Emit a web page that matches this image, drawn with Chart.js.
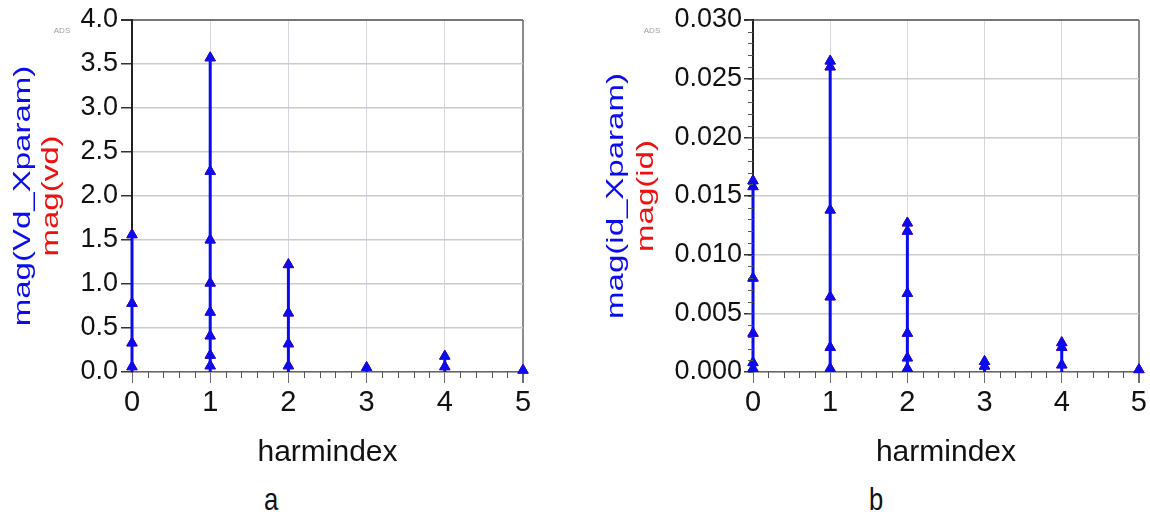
<!DOCTYPE html>
<html>
<head>
<meta charset="utf-8">
<title>harmindex spectra</title>
<script src="https://cdn.jsdelivr.net/npm/chart.js@4.4.1/dist/chart.umd.min.js"></script>
<style>
  html, body { margin: 0; padding: 0; background: #fff; }
  #page { position: relative; width: 1150px; height: 515px; overflow: hidden; }
  .panel { position: absolute; top: 0; width: 575px; height: 480px; }
  .caption {
    position: absolute; top: 483px; width: 40px; text-align: center;
    font-family: 'Liberation Sans', Arial, sans-serif; font-size: 32px; line-height: 32px;
    color: #111; transform: scaleX(0.8);
  }
</style>
</head>
<body>
<div id="page">
  <div class="panel" style="left:0"><canvas id="chart-a" width="575" height="480"></canvas></div>
  <div class="panel" style="left:575px"><canvas id="chart-b" width="575" height="480"></canvas></div>
  <div class="caption" style="left:251px">a</div>
  <div class="caption" style="left:856px">b</div>
</div>
<script>
  // ---- data ----
  const harmindex = [0, 1, 2, 3, 4, 5];

  // mag(Vd_Xparam) / mag(vd) at each harmonic, one entry per sweep point
  const vdH0 = [0.06, 0.33, 0.78, 1.56];
  const vdH1 = [0.07, 0.19, 0.41, 0.68, 1.01, 1.5, 2.28, 3.57];
  const vdH2 = [0.07, 0.32, 0.67, 1.22];
  const vdH3 = [0.05];
  const vdH4 = [0.06, 0.18];
  const vdH5 = [0.02];

  // mag(id_Xparam) / mag(id)
  const idH0 = [0.0003, 0.0008, 0.0033, 0.008, 0.0158, 0.0163];
  const idH1 = [0.0003, 0.0021, 0.0064, 0.0138, 0.026, 0.0265];
  const idH2 = [0.0003, 0.0012, 0.0033, 0.0067, 0.012, 0.0127];
  const idH3 = [0.0005, 0.0009];
  const idH4 = [0.0006, 0.0021, 0.0025];
  const idH5 = [0.0002];

  const BLUE = '#0b0bef';
  const RED = '#ee1111';
  const FONT = "'Liberation Sans', Arial, sans-serif";
  const NARROW = "'Liberation Sans Narrow', 'Arial Narrow', 'Liberation Sans', Arial, sans-serif";

  // flatten harmonic groups into scatter points
  function toPoints(groups) {
    const pts = [];
    groups.forEach(function (vals, i) {
      vals.forEach(function (v) {
        pts.push({ x: harmindex[i], y: v });
      });
    });
    return pts;
  }

  // vertical stem from 0 to the largest value of each harmonic
  function toStems(groups) {
    const pts = [];
    groups.forEach(function (vals, i) {
      pts.push({ x: harmindex[i], y: 0 });
      pts.push({ x: harmindex[i], y: Math.max.apply(null, vals) });
      pts.push({ x: harmindex[i], y: null });
    });
    return pts;
  }

  // minor ticks, axis titles and the little "ADS" tag
  const adsDecor = {
    id: 'adsDecor',
    afterDraw: function (chart, args, opts) {
      const ctx = chart.ctx;
      const area = chart.chartArea;
      const xs = chart.scales.x;
      const ys = chart.scales.y;
      ctx.save();

      ctx.strokeStyle = '#555';
      ctx.lineWidth = 1;
      ctx.beginPath();
      for (let v = xs.min; v < xs.max; v += 1) {
        for (let k = 1; k < 5; k++) {
          const px = Math.round(xs.getPixelForValue(v + k / 5)) + 0.5;
          ctx.moveTo(px, area.bottom);
          ctx.lineTo(px, area.bottom + 6);
        }
      }
      if (opts.minorY) {
        const n = Math.round((ys.max - ys.min) / opts.minorY);
        for (let k = 0; k <= n; k++) {
          const py = Math.round(ys.getPixelForValue(ys.min + k * opts.minorY)) + 0.5;
          ctx.moveTo(area.left - 5, py);
          ctx.lineTo(area.left, py);
        }
      }
      ctx.stroke();

      const cy = (area.top + area.bottom) / 2;
      ctx.font = '33px ' + FONT;
      ctx.textAlign = 'center';
      ctx.textBaseline = 'middle';
      [[opts.blueTitle, opts.blueX, BLUE], [opts.redTitle, opts.redX, RED]].forEach(function (t) {
        ctx.save();
        ctx.translate(t[1], cy);
        ctx.rotate(-Math.PI / 2);
        ctx.scale(1, 0.72);
        ctx.fillStyle = t[2];
        ctx.fillText(t[0], 0, 0);
        ctx.restore();
      });

      ctx.font = '8px ' + FONT;
      ctx.fillStyle = '#a0a0a0';
      ctx.fillText('ADS', opts.adsX, 31);
      ctx.restore();
    }
  };

  function makeChart(canvasId, groups, cfg) {
    const points = toPoints(groups);
    const ctx = document.getElementById(canvasId).getContext('2d');
    return new Chart(ctx, {
      type: 'scatter',
      data: {
        datasets: [
          {
            label: cfg.blueTitle,
            data: points,
            pointStyle: 'triangle',
            pointRadius: 6,
            pointHoverRadius: 6,
            backgroundColor: BLUE,
            borderColor: BLUE,
            borderWidth: 1,
            clip: false
          },
          {
            label: 'stems',
            data: toStems(groups),
            showLine: true,
            spanGaps: false,
            pointRadius: 0,
            borderColor: BLUE,
            borderWidth: 3,
            clip: false
          },
          {
            label: cfg.redTitle,
            data: points,
            pointStyle: 'triangle',
            pointRadius: 6,
            backgroundColor: RED,
            borderColor: RED,
            borderWidth: 1,
            clip: false
          }
        ]
      },
      options: {
        responsive: false,
        animation: false,
        devicePixelRatio: 1,
        layout: { padding: { left: 0, right: cfg.padRight, top: 20, bottom: 0 } },
        plugins: {
          legend: { display: false },
          tooltip: { enabled: false },
          adsDecor: cfg
        },
        scales: {
          x: {
            type: 'linear',
            min: 0,
            max: 5,
            afterFit: function (scale) { scale.height = 108; },
            ticks: {
              stepSize: 1,
              padding: 3,
              color: '#111',
              font: { family: NARROW, size: 29 },
              callback: function (v) { return String(v); }
            },
            grid: {
              color: function (c) { return c.tick && c.tick.value === 5 ? '#8c8c8c' : '#d6d6de'; },
              lineWidth: function (c) { return c.tick && c.tick.value === 5 ? 2 : 1; },
              tickColor: '#6a6a7a',
              tickLength: 11
            },
            border: { color: '#666', width: 1.5 },
            title: {
              display: true,
              text: 'harmindex',
              color: '#111',
              font: { family: FONT, size: 30 },
              padding: { top: 0, bottom: 9 }
            }
          },
          y: {
            min: 0,
            max: cfg.yMax,
            afterFit: function (scale) { scale.width = cfg.axisWidth; },
            ticks: {
              stepSize: cfg.yStep,
              padding: cfg.tickPad,
              color: '#111',
              font: { family: FONT, size: 27 },
              callback: function (v) { return v.toFixed(cfg.digits); }
            },
            grid: {
              color: function (c) {
                return c.tick && Math.abs(c.tick.value - cfg.yMax) < 1e-9 ? '#777' : '#cbcbcb';
              },
              lineWidth: function (c) {
                return c.tick && Math.abs(c.tick.value - cfg.yMax) < 1e-9 ? 2 : 1.5;
              },
              tickColor: '#333',
              tickLength: cfg.tickLen
            },
            border: { color: '#222', width: 2 }
          }
        }
      },
      plugins: [adsDecor]
    });
  }

  makeChart('chart-a', [vdH0, vdH1, vdH2, vdH3, vdH4, vdH5], {
    blueTitle: 'mag(Vd_Xparam)',
    redTitle: 'mag(vd)',
    blueX: 23,
    redX: 51,
    adsX: 62,
    yMax: 4,
    yStep: 0.5,
    digits: 1,
    axisWidth: 132,
    padRight: 52,
    tickLen: 11,
    tickPad: 3,
    minorY: null
  });

  makeChart('chart-b', [idH0, idH1, idH2, idH3, idH4, idH5], {
    blueTitle: 'mag(id_Xparam)',
    redTitle: 'mag(id)',
    blueX: 41,
    redX: 71,
    adsX: 77,
    yMax: 0.03,
    yStep: 0.005,
    digits: 3,
    axisWidth: 178,
    padRight: 11,
    tickLen: 9,
    tickPad: 2,
    minorY: 0.001
  });
</script>
</body>
</html>
